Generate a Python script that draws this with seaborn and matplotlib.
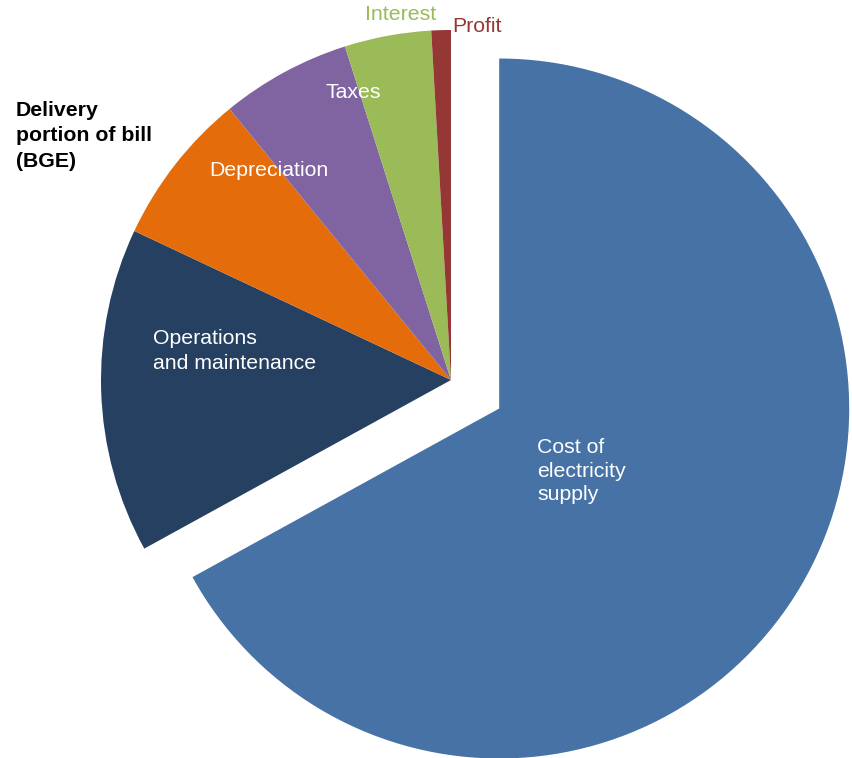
import matplotlib
matplotlib.use("Agg")
import matplotlib.pyplot as plt
import seaborn as sns

# bill breakdown, percent of total
categories = ["Cost of electricity supply", "Operations and maintenance", "Depreciation",
              "Taxes", "Interest", "Profit"]
shares = [67, 15, 7.1, 6, 4, 0.9]
colors = ["#4672A6", "#254061", "#E46C0A", "#8064A2", "#9BBB59", "#953735"]
slice_labels = ["Cost of\nelectricity\nsupply", "Operations\nand maintenance", "Depreciation",
                "Taxes", "Interest", "Profit"]
title_text = "Delivery\nportion of bill\n(BGE)"

sns.set_theme(style="white")
plt.rcParams["font.family"] = ["Liberation Sans", "DejaVu Sans"]

W, H = 852, 758
R = 350
fig = plt.figure(figsize=(W / 100, H / 100), dpi=100)
ax = fig.add_axes([0, 0, 1, 1])

# explode is in data units for pie, so scale by the radius
explode = [0.16 * R, 0, 0, 0, 0, 0]
ax.pie(shares, colors=colors, explode=explode, startangle=90, counterclock=False,
       center=(451, H - 380), radius=R, wedgeprops=dict(linewidth=0))
ax.set_xlim(0, W)
ax.set_ylim(0, H)
ax.set_aspect("equal")
ax.axis("off")

fs = 15.3
# text placed in pixel coordinates (y measured from top)
def put(x, y, s, **kw):
    ax.text(x, H - y, s, fontsize=fs, **kw)

put(537, 438, slice_labels[0], color="white", ha="left", va="top", linespacing=1.31)
put(153, 329, slice_labels[1], color="white", ha="left", va="top", linespacing=1.42)
put(269, 170, slice_labels[2], color="white", ha="center", va="center")
put(353, 92, slice_labels[3], color="white", ha="center", va="center")
put(401, 15, slice_labels[4], color=colors[4], ha="center", va="center")
put(477, 26, slice_labels[5], color=colors[5], ha="center", va="center")
put(16, 101, title_text, color="black", ha="left", va="top", fontweight="bold", linespacing=1.42)

fig.savefig("out.png", dpi=100)
